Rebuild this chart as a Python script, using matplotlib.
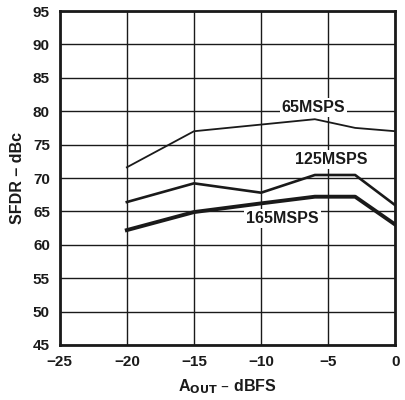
import matplotlib
matplotlib.use('Agg')
import matplotlib.pyplot as plt

plt.rcParams['font.family'] = ['Liberation Sans', 'DejaVu Sans']
plt.rcParams['font.weight'] = 'bold'

# SFDR vs output amplitude
aout = [-20, -15, -10, -6, -3, 0]
sfdr_65 = [71.6, 77.0, 78.0, 78.8, 77.5, 77.0]
sfdr_125 = [66.4, 69.2, 67.8, 70.45, 70.45, 65.9]
sfdr_165 = [62.2, 64.9, 66.2, 67.2, 67.2, 63.0]

xticks = [-25, -20, -15, -10, -5, 0]
xtick_labels = ['\u221225', '\u221220', '\u221215', '\u221210', '\u22125', '0']
yticks = list(range(45, 100, 5))

fig = plt.figure(figsize=(4.06, 4.0), dpi=100)
ax = fig.add_axes([0.147, 0.1375, 0.827, 0.835])

ax.plot(aout, sfdr_65, color='#1a1a1a', lw=1.3, zorder=3)
ax.plot(aout, sfdr_125, color='#1a1a1a', lw=1.9, zorder=3)
ax.plot(aout, sfdr_165, color='#1a1a1a', lw=2.8, zorder=3)

fs = 11.5
box = dict(facecolor='white', edgecolor='none', pad=1.5)
ax.text(-6.1, 80.6, '65MSPS', ha='center', va='center', fontsize=fs,
        fontweight='bold', color='#1a1a1a', bbox=box, zorder=4)
ax.text(-4.8, 72.75, '125MSPS', ha='center', va='center', fontsize=fs,
        fontweight='bold', color='#1a1a1a', bbox=box, zorder=4)
ax.text(-8.4, 63.9, '165MSPS', ha='center', va='center', fontsize=fs,
        fontweight='bold', color='#1a1a1a', bbox=box, zorder=4)

ax.set_xlim(-25, 0)
ax.set_ylim(45, 95)
ax.set_xticks(xticks)
ax.set_xticklabels(xtick_labels)
ax.set_yticks(yticks)
ax.grid(True, color='#1a1a1a', lw=1.0)
ax.tick_params(axis='x', length=0, labelsize=11, colors='#1a1a1a', pad=7)
ax.tick_params(axis='y', length=0, labelsize=11, colors='#1a1a1a', pad=7)
for s in ax.spines.values():
    s.set_linewidth(2.0)
    s.set_color('#1a1a1a')

ax.set_xlabel('A$_{\\mathbf{OUT}}$ \u2013 dBFS', fontsize=fs, fontweight='bold',
              color='#1a1a1a', labelpad=6)
ax.set_ylabel('SFDR \u2013 dBc', fontsize=fs, fontweight='bold',
              color='#1a1a1a', labelpad=6)

fig.savefig('out.png', dpi=100)
